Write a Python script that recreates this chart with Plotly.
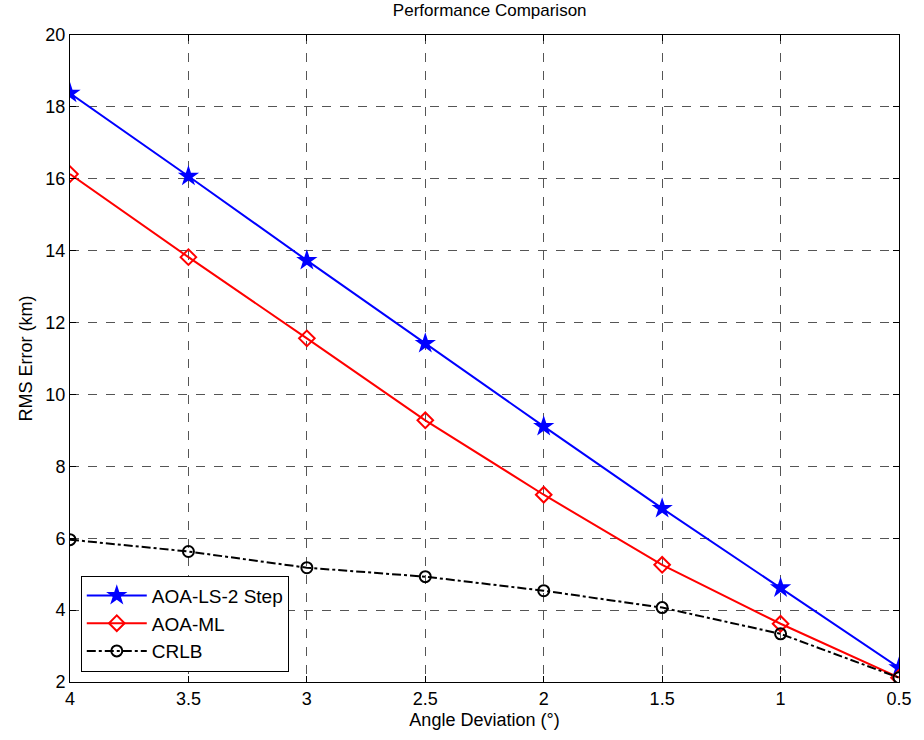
import plotly.graph_objects as go

angle = [4, 3.5, 3, 2.5, 2, 1.5, 1, 0.5]
aoa_ls = [18.38, 16.07, 13.73, 11.42, 9.11, 6.83, 4.62, 2.40]
aoa_ml = [16.13, 13.82, 11.56, 9.28, 7.21, 5.26, 3.62, 2.12]
crlb = [5.96, 5.63, 5.18, 4.93, 4.54, 4.07, 3.34, 2.12]
x_ticks = [4, 3.5, 3, 2.5, 2, 1.5, 1, 0.5]
x_tick_text = ["4", "3.5", "3", "2.5", "2", "1.5", "1", "0.5"]
y_ticks = [2, 4, 6, 8, 10, 12, 14, 16, 18, 20]

FONT = "Liberation Sans, Arial, sans-serif"

fig = go.Figure()
fig.add_trace(go.Scatter(
    x=angle, y=aoa_ls, name="AOA-LS-2 Step", mode="lines+markers",
    line=dict(color="#0000ff", width=2),
    marker=dict(symbol="star", size=16, color="#0000ff", line=dict(width=0)),
))
fig.add_trace(go.Scatter(
    x=angle, y=aoa_ml, name="AOA-ML", mode="lines+markers",
    line=dict(color="#ff0000", width=2),
    marker=dict(symbol="diamond-open", size=12, color="#ff0000", line=dict(width=2, color="#ff0000")),
))
fig.add_trace(go.Scatter(
    x=angle, y=crlb, name="CRLB", mode="lines+markers",
    line=dict(color="#000000", width=2, dash="dashdot"),
    marker=dict(symbol="circle-open", size=11, color="#000000", line=dict(width=2, color="#000000")),
))

axis_common = dict(
    showline=True, linecolor="black", linewidth=1, mirror="allticks",
    ticks="inside", ticklen=6, tickcolor="black",
    showgrid=True, gridcolor="#555555", griddash="dash", gridwidth=1,
    zeroline=False, tickfont=dict(size=18, color="black", family=FONT),
)

fig.update_layout(
    width=924, height=740,
    margin=dict(l=70, r=17, t=35, b=58),
    paper_bgcolor="white", plot_bgcolor="white",
    font=dict(family=FONT, color="black", size=18),
    title=dict(text="Performance Comparison", x=0.53, xanchor="center", y=0.995, yanchor="top",
               font=dict(size=17, family=FONT, color="black")),
    xaxis=dict(axis_common, range=[4, 0.5], tickvals=x_ticks, ticktext=x_tick_text,
               title=dict(text="Angle Deviation (°)", font=dict(size=18, family=FONT), standoff=5)),
    yaxis=dict(axis_common, range=[2, 20], tickvals=y_ticks,
               title=dict(text="RMS Error (km)", font=dict(size=18, family=FONT), standoff=8)),
    legend=dict(x=0.013, y=0.016, xanchor="left", yanchor="bottom",
                bordercolor="black", borderwidth=1, bgcolor="white",
                font=dict(size=19, family=FONT, color="black"),
                itemwidth=60, tracegroupgap=2),
    showlegend=True,
)

fig.write_html("out.html")
